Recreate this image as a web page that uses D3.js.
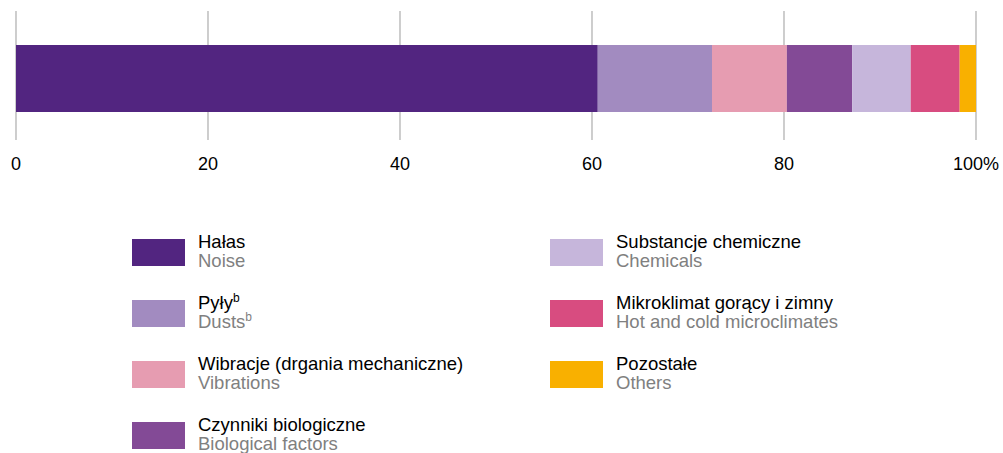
<!DOCTYPE html>
<html>
<head>
<meta charset="utf-8">
<script src="https://cdn.jsdelivr.net/npm/d3@7"></script>
<style>
  body { margin: 0; background: #fff; }
  svg { font-family: "Liberation Sans", Arial, sans-serif; }
</style>
</head>
<body>
<div id="chart"></div>
<script>
// shares of hazard categories, %
var labelsPl = ["Hałas", "Pyły", "Wibracje (drgania mechaniczne)", "Czynniki biologiczne",
                "Substancje chemiczne", "Mikroklimat gorący i zimny", "Pozostałe"];
var labelsEn = ["Noise", "Dusts", "Vibrations", "Biological factors",
                "Chemicals", "Hot and cold microclimates", "Others"];
var supers = ["", "b", "", "", "", "", ""];
var values = [60.6, 11.9, 7.8, 6.8, 6.1, 5.1, 1.7];
var colors = ["#522580", "#a28bc0", "#e69cb1", "#834a96", "#c6b6db", "#d84c80", "#f9b000"];
var ticks = [0, 20, 40, 60, 80, 100];

var width = 1003, height = 453;
var svg = d3.select("#chart").append("svg").attr("width", width).attr("height", height);

var x = d3.scaleLinear().domain([0, 100]).range([16, 976]);

// grid lines
svg.append("g").selectAll("line").data(ticks).join("line")
  .attr("x1", function(d){ return x(d); }).attr("x2", function(d){ return x(d); })
  .attr("y1", 11).attr("y2", 140)
  .attr("stroke", "#b3b3b3").attr("stroke-width", 1.3);

// stacked bar
var starts = [];
var acc = 0;
values.forEach(function(v){ starts.push(acc); acc += v; });

svg.append("g").selectAll("rect").data(values).join("rect")
  .attr("x", function(d, i){ return x(starts[i]); })
  .attr("width", function(d, i){ return x(starts[i] + d) - x(starts[i]); })
  .attr("y", 45).attr("height", 67)
  .attr("fill", function(d, i){ return colors[i]; });

// tick labels
svg.append("g").selectAll("text").data(ticks).join("text")
  .attr("x", function(d){ return x(d); }).attr("y", 170)
  .attr("text-anchor", "middle")
  .attr("font-size", 18).attr("fill", "#000")
  .text(function(d){ return d === 100 ? "100%" : d; });

// legend
var legend = svg.append("g");
var items = legend.selectAll("g").data(labelsPl).join("g")
  .attr("transform", function(d, i){
    var col = i < 4 ? 0 : 1;
    var row = i < 4 ? i : i - 4;
    return "translate(" + (col ? 550 : 132) + "," + (239 + row * 61) + ")";
  });

items.append("rect")
  .attr("width", 53).attr("height", 27)
  .attr("fill", function(d, i){ return colors[i]; });

var t1 = items.append("text")
  .attr("x", 66).attr("y", 9)
  .attr("font-size", 18.5).attr("fill", "#000");
t1.append("tspan").text(function(d){ return d; });
t1.append("tspan").attr("font-size", 12).attr("dy", -7)
  .text(function(d, i){ return supers[i]; });

var t2 = items.append("text")
  .attr("x", 66).attr("y", 28)
  .attr("font-size", 18.5).attr("fill", "#808080");
t2.append("tspan").text(function(d, i){ return labelsEn[i]; });
t2.append("tspan").attr("font-size", 12).attr("dy", -7)
  .text(function(d, i){ return supers[i]; });
</script>
</body>
</html>
